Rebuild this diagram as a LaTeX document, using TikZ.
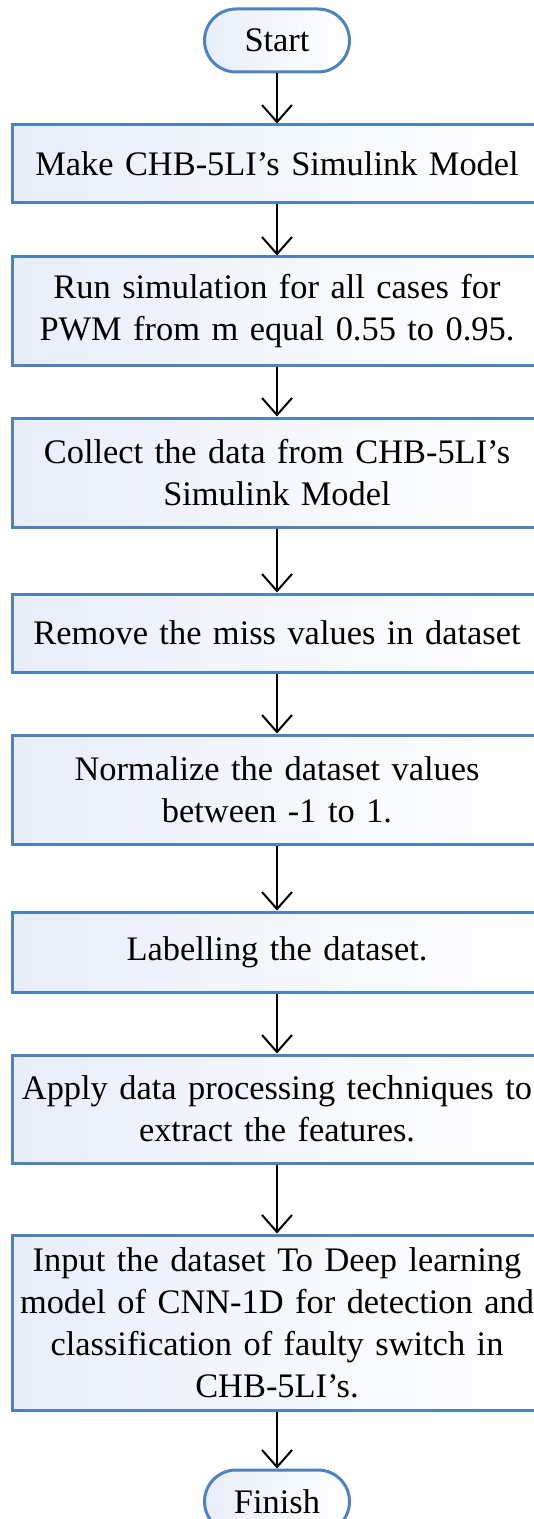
\documentclass[tikz,border=0pt]{standalone}
\usepackage{fontspec}
\setmainfont{Liberation Serif}
\usetikzlibrary{arrows.meta}
\definecolor{edgeblue}{RGB}{79,129,189}
\definecolor{fillblue}{RGB}{232,237,248}
\tikzset{
  boxfont/.style={font=\fontsize{17.2}{21}\selectfont},
  stepbox/.style={draw=edgeblue, line width=1.5pt, left color=fillblue, right color=white,
    minimum width=265pt, text width=262pt, align=center, inner sep=0pt, boxfont},
  term/.style={draw=edgeblue, line width=1.5pt, left color=fillblue, right color=white,
    rounded corners=15.75pt, minimum width=72.5pt, minimum height=31.5pt, inner sep=0pt, boxfont},
  flow/.style={-{Straight Barb[length=8.5pt,width=15pt]}, line width=1pt}
}
\begin{document}
\begin{tikzpicture}[x=0.5pt,y=-0.5pt]
  \useasboundingbox (0,0) rectangle (534,1519);
  \node[term] (start) at (277,40.5) {Start};
  \node[stepbox, minimum height=39pt] (b1) at (277,164) {Make CHB-5LI's Simulink Model};
  \node[stepbox, minimum height=54.5pt] (b2) at (277,311.5) {Run simulation for all cases for\\PWM from m equal 0.55 to 0.95.};
  \node[stepbox, minimum height=54.5pt] (b3) at (277,472.5) {Collect the data from CHB-5LI's\\Simulink Model};
  \node[stepbox, minimum height=39pt] (b4) at (277,633) {Remove the miss values in dataset};
  \node[stepbox, minimum height=54.5pt] (b5) at (277,789.5) {Normalize the dataset values\\between -1 to 1.};
  \node[stepbox, minimum height=40pt] (b6) at (277,952) {Labelling the dataset.};
  \node[stepbox, minimum height=54pt] (b7) at (277,1109) {Apply data processing techniques to\\extract the features.};
  \node[stepbox, minimum height=87.5pt] (b8) at (277,1322.5) {Input the dataset To Deep learning\\model of CNN-1D for detection and\\classification of faulty switch in\\CHB-5LI's.};
  \node[term] (finish) at (277,1501.5) {Finish};
  \draw[flow] (start) -- (b1);
  \draw[flow] (b1) -- (b2);
  \draw[flow] (b2) -- (b3);
  \draw[flow] (b3) -- (b4);
  \draw[flow] (b4) -- (b5);
  \draw[flow] (b5) -- (b6);
  \draw[flow] (b6) -- (b7);
  \draw[flow] (b7) -- (b8);
  \draw[flow] (b8) -- (finish);
\end{tikzpicture}
\end{document}
